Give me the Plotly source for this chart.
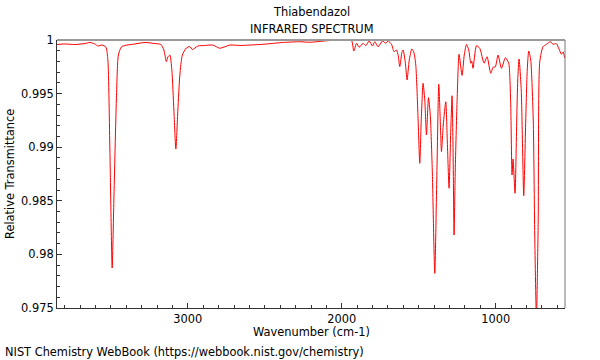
import plotly.graph_objects as go

# Wavenumber (cm-1) and relative transmittance
wavenumber = [
    3850.7, 3798.8, 3733.8, 3668.9, 3636.4, 3603.9, 3584.5, 3558.5, 3532.5, 3519.5,
    3506.5, 3491.6, 3480.6, 3464.3, 3451.3, 3431.8, 3409.1, 3344.2, 3279.2, 3214.3,
    3175.3, 3155.9, 3139.6, 3129.9, 3116.9, 3103.9, 3090.9, 3077.9, 3064.9, 3052.0,
    3035.7, 3009.7, 2987.0, 2970.8, 2935.1, 2889.6, 2837.7, 2792.2, 2727.3, 2662.3,
    2597.4, 2532.4, 2487.0, 2383.1, 2272.7, 2207.7, 2097.3, 2012.9, 1938.2, 1922.0,
    1904.5, 1887.6, 1861.6, 1844.1, 1822.6, 1800.6, 1785.6, 1764.2, 1735.6, 1714.2,
    1699.3, 1677.2, 1660.3, 1644.7, 1633.0, 1623.3, 1608.3, 1601.8, 1587.6, 1575.9,
    1561.6, 1545.3, 1532.4, 1519.4, 1506.4, 1493.4, 1483.7, 1472.0, 1460.9, 1449.9,
    1436.9, 1425.2, 1412.2, 1396.0, 1383.0, 1370.0, 1360.3, 1352.5, 1340.8, 1324.5,
    1314.8, 1303.1, 1292.1, 1283.6, 1277.1, 1270.6, 1262.9, 1251.2, 1238.2, 1218.7,
    1204.4, 1190.1, 1175.2, 1162.2, 1155.7, 1147.3, 1125.2, 1103.8, 1075.8, 1056.4,
    1032.3, 1016.1, 1003.1, 984.9, 962.8, 936.9, 915.4, 908.9, 902.4, 894.0,
    887.5, 874.5, 863.5, 857.0, 848.5, 834.3, 818.0, 805.0, 795.3, 785.5,
    772.6, 756.3, 746.6, 735.5, 723.9, 714.1, 692.7, 670.6, 644.6, 627.7,
    607.0, 588.8, 573.2, 561.5, 551.8,
]
transmittance = [
    0.99958, 0.99963, 0.99958, 0.99967, 0.99977, 0.99963, 0.99944, 0.99953, 0.99935, 0.99813,
    0.98974, 0.97873, 0.98507, 0.99440, 0.99860, 0.99935, 0.99949, 0.99963, 0.99977, 0.99967,
    0.99958, 0.99907, 0.99799, 0.99841, 0.99860, 0.99720, 0.99347, 0.98983, 0.99347, 0.99673,
    0.99860, 0.99925, 0.99939, 0.99911, 0.99944, 0.99949, 0.99953, 0.99923, 0.99953, 0.99949,
    0.99953, 0.99958, 0.99963, 0.99977, 0.99984, 0.99979, 0.99993, 1.00000, 1.00000, 0.99897,
    0.99969, 0.99932, 0.99969, 0.99947, 0.99991, 0.99944, 0.99984, 0.99937, 0.99991, 0.99969,
    0.99991, 0.99960, 0.99891, 0.99907, 0.99851, 0.99751, 0.99891, 0.99907, 0.99795, 0.99627,
    0.99813, 0.99916, 0.99888, 0.99767, 0.99347, 0.98850, 0.99254, 0.99596, 0.99440, 0.99114,
    0.99462, 0.99300, 0.98787, 0.97823, 0.98694, 0.99587, 0.99254, 0.98958, 0.99207, 0.99424,
    0.99067, 0.98617, 0.99160, 0.99480, 0.98974, 0.98181, 0.98787, 0.99424, 0.99867, 0.99669,
    0.99860, 0.99958, 0.99907, 0.99783, 0.99804, 0.99736, 0.99947, 0.99923, 0.99783, 0.99844,
    0.99689, 0.99748, 0.99748, 0.99860, 0.99736, 0.99835, 0.99783, 0.99673, 0.99394, 0.98741,
    0.98890, 0.98570, 0.99254, 0.99627, 0.99823, 0.99534, 0.98547, 0.99254, 0.99720, 0.99897,
    0.99813, 0.99254, 0.98181, 0.97400, 0.98321, 0.99795, 0.99937, 0.99960, 0.99984, 0.99960,
    0.99967, 0.99916, 0.99867, 0.99888, 0.99832,
]

compound = "Thiabendazol"
subtitle = "INFRARED SPECTRUM"
x_title = "Wavenumber (cm-1)"
y_title = "Relative Transmittance"
footer = "NIST Chemistry WebBook (https://webbook.nist.gov/chemistry)"

FONT = "DejaVu Sans"
FS = 11.4

fig = go.Figure()
fig.add_trace(go.Scatter(
    x=wavenumber, y=transmittance, mode="lines",
    line=dict(color="#ff0000", width=1, shape="spline", smoothing=0.6),
    hoverinfo="skip", showlegend=False,
))

fig.update_layout(
    width=600, height=360,
    margin=dict(l=57, r=35, t=40, b=52),
    paper_bgcolor="white", plot_bgcolor="white",
    font=dict(family=FONT, size=FS, color="black"),
    hovermode=False,
    xaxis=dict(
        range=[3850, 550], autorange=False,
        tick0=0, dtick=1000, ticks="inside", ticklen=5, tickcolor="#333",
        minor=dict(dtick=100, ticks="inside", ticklen=3, tickcolor="#333"),
        showgrid=False, zeroline=False,
        showline=True, linecolor="#333", linewidth=1,
        tickfont=dict(family=FONT, size=FS),
    ),
    yaxis=dict(
        range=[0.975, 1.0], autorange=False,
        tick0=0.975, dtick=0.005, ticks="inside", ticklen=5, tickcolor="#333",
        minor=dict(dtick=0.001, ticks="inside", ticklen=3, tickcolor="#333"),
        showgrid=False, zeroline=False,
        showline=True, linecolor="#333", linewidth=1,
        tickfont=dict(family=FONT, size=FS),
    ),
    shapes=[
        dict(type="line", xref="paper", yref="paper", x0=0, x1=1, y0=1, y1=1,
             line=dict(color="#9a9a9a", width=2)),
        dict(type="line", xref="paper", yref="paper", x0=1, x1=1, y0=0, y1=1,
             line=dict(color="#777", width=1)),
    ],
    annotations=[
        dict(text=compound, xref="paper", yref="paper", x=0.5, y=(308 - 12) / 268,
             xanchor="center", yanchor="middle", showarrow=False,
             font=dict(family=FONT, size=FS)),
        dict(text=subtitle, xref="paper", yref="paper", x=0.5, y=(308 - 29) / 268,
             xanchor="center", yanchor="middle", showarrow=False,
             font=dict(family=FONT, size=FS)),
        dict(text=x_title, xref="paper", yref="paper", x=0.5, y=(308 - 332) / 268,
             xanchor="center", yanchor="middle", showarrow=False,
             font=dict(family=FONT, size=FS)),
        dict(text=y_title, xref="paper", yref="paper", x=(10 - 57) / 508, y=0.5,
             xanchor="center", yanchor="middle", textangle=-90, showarrow=False,
             font=dict(family=FONT, size=FS)),
        dict(text=footer, xref="paper", yref="paper", x=(3 - 57) / 508, y=(308 - 352) / 268,
             xanchor="left", yanchor="middle", showarrow=False,
             font=dict(family=FONT, size=FS)),
    ],
)

fig.write_html(
    "out.html",
    config={"displayModeBar": False, "staticPlot": True},
    post_script="document.body.style.margin='0';document.body.style.padding='0';",
)
